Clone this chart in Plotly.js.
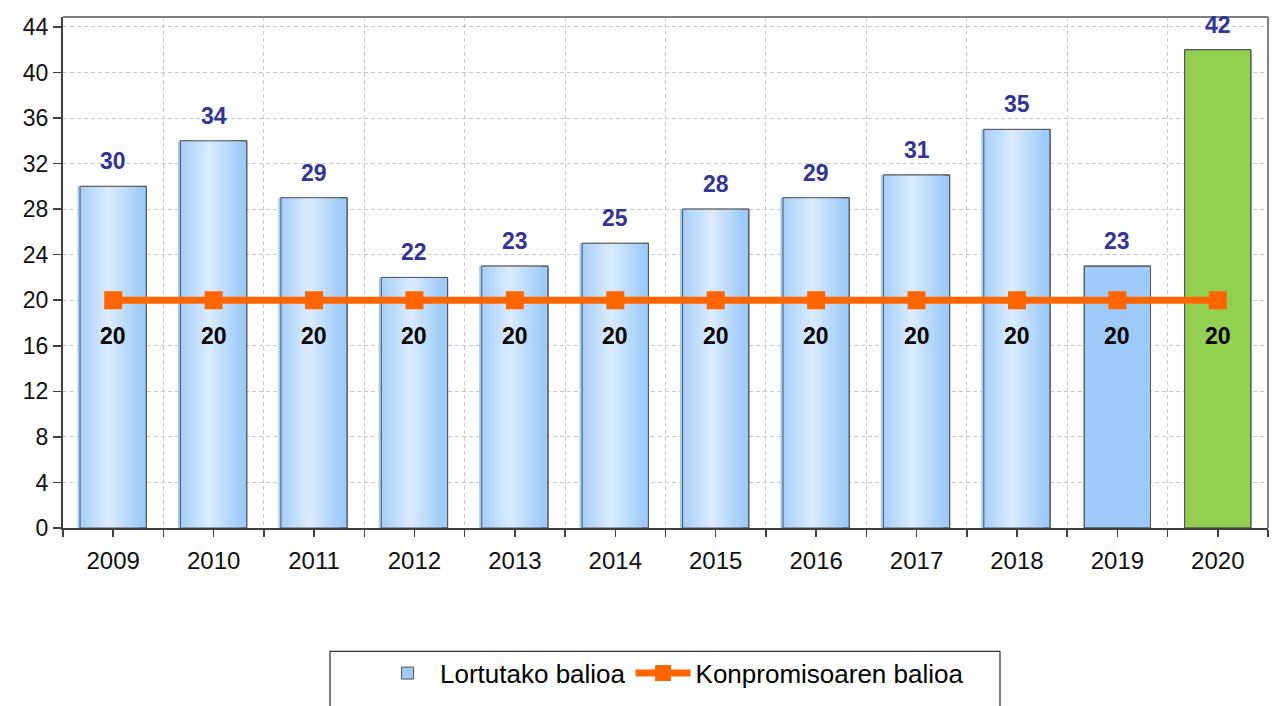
<!DOCTYPE html>
<html><head><meta charset="utf-8">
<script src="https://cdn.plot.ly/plotly-3.0.1.min.js"></script>
<style>html,body{margin:0;padding:0;background:#fff}#chart{width:1277px;height:706px}</style>
</head><body><div id="chart"></div>
<script>
const years = [2009, 2010, 2011, 2012, 2013, 2014, 2015, 2016, 2017, 2018, 2019, 2020];
const yearLabels = ['2009','2010','2011','2012','2013','2014','2015','2016','2017','2018','2019','2020'];
const achieved = [30, 34, 29, 22, 23, 25, 28, 29, 31, 35, 23, 42];
const commitment = [20, 20, 20, 20, 20, 20, 20, 20, 20, 20, 20, 20];
const seriesNames = ['Lortutako balioa', 'Konpromisoaren balioa'];
const yTicks = [0, 4, 8, 12, 16, 20, 24, 28, 32, 36, 40, 44];

const FONT = 'Liberation Sans, Arial, sans-serif';
const BLUE = [158, 203, 249];
const LIGHT = [222, 237, 253];
const GREEN = '#92d050';
const BW = 0.66;
const n = years.length;
const BOTTOM = 531, PH = 514;

const baseColors = years.map((y, i) => i === n - 1 ? GREEN : 'rgb(' + BLUE.join(',') + ')');
const traces = [];
traces.push({
  type: 'bar', x: years, y: achieved, width: BW, name: seriesNames[0],
  marker: {color: baseColors, line: {color: '#555555', width: 1}},
  showlegend: true, hoverinfo: 'skip'
});
const N = 16;
for (let k = 0; k < N; k++) {
  const f = (k + 1) / (N + 1);
  const w = BW * (1 - f);
  const c = BLUE.map((b, j) => Math.round(b + (LIGHT[j] - b) * f));
  const col = 'rgb(' + c.join(',') + ')';
  traces.push({
    type: 'bar', x: years, y: achieved, width: w, offset: -w / 2 - 0.045,
    marker: {color: years.map((y, i) => i >= n - 2 ? 'rgba(0,0,0,0)' : col), line: {width: 0}},
    showlegend: false, hoverinfo: 'skip'
  });
}
traces.push({
  type: 'bar', x: years, y: achieved, width: BW,
  marker: {color: 'rgba(0,0,0,0)', line: {color: '#555555', width: 1}},
  showlegend: false, hoverinfo: 'skip'
});
traces.push({
  type: 'scatter', mode: 'lines+markers', x: years, y: commitment, name: seriesNames[1],
  line: {color: '#ff6600', width: 7},
  marker: {symbol: 'square', size: 18, color: '#ff6600'},
  hoverinfo: 'skip'
});

const annotations = [];
years.forEach((yr, i) => {
  annotations.push({x: yr, y: achieved[i], xref: 'x', yref: 'y', text: String(achieved[i]),
    showarrow: false, yanchor: 'bottom', yshift: 10,
    font: {family: FONT, size: 23, color: '#333399', weight: 'bold'}});
  annotations.push({x: yr, y: commitment[i], xref: 'x', yref: 'y', text: String(commitment[i]),
    showarrow: false, yanchor: 'middle', yshift: -36,
    font: {family: FONT, size: 23, color: '#000000', weight: 'bold'}});
});

const gridStyle = {gridcolor: '#c8c8c8', griddash: '4px,3px', gridwidth: 1};
const layout = {
  width: 1277, height: 706,
  margin: {l: 63, r: 9, t: 17, b: 175, pad: 0},
  paper_bgcolor: '#ffffff', plot_bgcolor: '#ffffff',
  barmode: 'overlay',
  font: {family: FONT, color: '#000000'},
  xaxis: {
    type: 'linear', range: [years[0] - 0.5, years[n - 1] + 0.5],
    tickmode: 'array', tickvals: years, ticktext: yearLabels,
    ticks: 'outside', ticklen: 7, tickwidth: 1.5, tickcolor: '#404040',
    showline: true, linecolor: '#404040', linewidth: 2,
    showgrid: false, zeroline: false,
    tickfont: {family: FONT, size: 24, color: '#111111'},
    ticklabelstandoff: 3,
    minor: Object.assign({tickmode: 'linear', tick0: years[0] - 0.5, dtick: 1, ticks: 'outside', ticklen: 7, tickwidth: 1.5, tickcolor: '#404040', showgrid: true}, gridStyle)
  },
  yaxis: {
    range: [0, 44.87], tickmode: 'array', tickvals: yTicks,
    ticks: 'outside', ticklen: 8, tickwidth: 1.5, tickcolor: '#404040',
    showline: true, linecolor: '#404040', linewidth: 2,
    showgrid: true, ...gridStyle, zeroline: false,
    tickfont: {family: FONT, size: 23, color: '#111111'}
  },
  shapes: [
    {type: 'line', xref: 'paper', yref: 'paper', x0: 0, x1: 1, y0: 1, y1: 1, line: {color: '#808080', width: 2}},
    {type: 'line', xref: 'paper', yref: 'paper', x0: 1, x1: 1, y0: 0, y1: 1, line: {color: '#808080', width: 2}},
    {type: 'rect', xref: 'paper', yref: 'paper', x0: (330 - 63) / 1205, x1: (1000 - 63) / 1205,
      y0: (BOTTOM - 712) / PH, y1: (BOTTOM - 655) / PH, line: {color: '#000000', width: 1}, fillcolor: 'rgba(0,0,0,0)'}
  ],
  showlegend: true,
  legend: {orientation: 'h', x: (672 - 63) / 1205, xanchor: 'center', y: (BOTTOM - 677) / PH, yanchor: 'middle',
    font: {family: FONT, size: 26, color: '#000000'}, bgcolor: 'rgba(0,0,0,0)', itemwidth: 55, traceorder: 'normal'},
  annotations: annotations
};
Plotly.newPlot('chart', traces, layout, {staticPlot: true, displayModeBar: false});
</script>
</body></html>
